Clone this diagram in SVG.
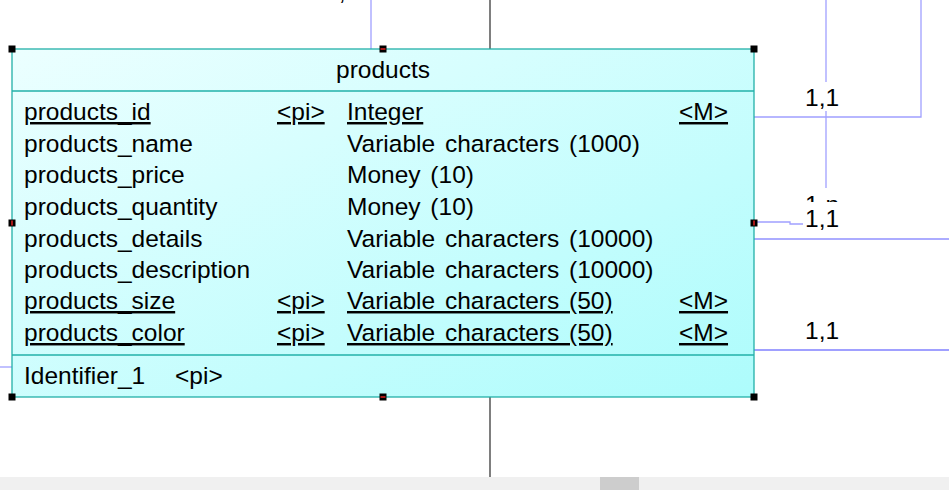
<svg xmlns="http://www.w3.org/2000/svg" width="949" height="490" viewBox="0 0 949 490">
<style>
text{font-family:"Liberation Sans",Arial,sans-serif;font-size:24.5px;word-spacing:3px;fill:#000}
.u{text-decoration:underline}
.c{fill:none;stroke:#a0a0ff;stroke-width:1.3}
.k{fill:none;stroke:#3a3a3a;stroke-width:1.3}
.h{fill:#000}
.r{stroke:#e02020;stroke-width:1.5}
</style>
<defs>
<linearGradient id="g" x1="0" y1="0" x2="1" y2="1">
<stop offset="0" stop-color="#ecffff"/>
<stop offset="1" stop-color="#adfcfc"/>
</linearGradient>
</defs>
<rect width="949" height="490" fill="#fff"/>
<g id="connectors">
<line class="k" x1="490" y1="0" x2="490" y2="49"/>
<line class="k" x1="490" y1="397" x2="490" y2="477"/>
<line class="c" x1="371" y1="0" x2="371" y2="49"/>
<line class="c" x1="826" y1="0" x2="826" y2="82"/>
<line class="c" x1="826" y1="111" x2="826" y2="188"/>
<polyline class="c" points="754,117 921,117 921,0"/>
<polyline class="c" points="754,222 790,222 790,224 803,224"/>
<line class="c" x1="754" y1="239" x2="949" y2="239" style="stroke:#9090ff"/>
<line class="c" x1="754" y1="350" x2="949" y2="350" style="stroke:#8080ff"/>
<line class="c" x1="0" y1="367" x2="12" y2="367"/>
<text x="325" y="0">1,1</text>
<text x="805" y="106">1,1</text>
<text x="805" y="213">1,n</text>
<rect x="803" y="202" width="38" height="27" fill="#fff"/>
<text x="805" y="227">1,1</text>
<text x="805" y="339">1,1</text>
</g>
<g id="products">
<rect x="12" y="49" width="742" height="348" fill="url(#g)" stroke="#22b0a8" stroke-width="1.3"/>
<line x1="12" y1="91" x2="754" y2="91" stroke="#22b0a8" stroke-width="1.3"/>
<line x1="12" y1="355" x2="754" y2="355" stroke="#22b0a8" stroke-width="1.3"/>
<text x="383" y="78" text-anchor="middle">products</text>
<text x="24" y="120" class="u">products_id</text>
<text x="277" y="120" class="u">&lt;pi&gt;</text>
<text x="347" y="120" class="u">Integer</text>
<text x="679" y="120" class="u">&lt;M&gt;</text>
<text x="24" y="152">products_name</text>
<text x="347" y="152">Variable characters (1000)</text>
<text x="24" y="183">products_price</text>
<text x="347" y="183">Money (10)</text>
<text x="24" y="215">products_quantity</text>
<text x="347" y="215">Money (10)</text>
<text x="24" y="247">products_details</text>
<text x="347" y="247">Variable characters (10000)</text>
<text x="24" y="278">products_description</text>
<text x="347" y="278">Variable characters (10000)</text>
<text x="24" y="309" class="u">products_size</text>
<text x="277" y="309" class="u">&lt;pi&gt;</text>
<text x="347" y="309" class="u">Variable characters (50)</text>
<text x="679" y="309" class="u">&lt;M&gt;</text>
<text x="24" y="341" class="u">products_color</text>
<text x="277" y="341" class="u">&lt;pi&gt;</text>
<text x="347" y="341" class="u">Variable characters (50)</text>
<text x="679" y="341" class="u">&lt;M&gt;</text>
<text x="24" y="384">Identifier_1</text>
<text x="175" y="384">&lt;pi&gt;</text>
<g id="handles">
<rect class="h" x="8.5" y="45.5" width="7" height="7"/>
<rect class="h" x="379.5" y="45.5" width="7" height="7"/>
<rect class="h" x="750.5" y="45.5" width="7" height="7"/>
<rect class="h" x="8.5" y="219.5" width="7" height="7"/>
<rect class="h" x="750.5" y="219.5" width="7" height="7"/>
<rect class="h" x="8.5" y="393.5" width="7" height="7"/>
<rect class="h" x="379.5" y="393.5" width="7" height="7"/>
<rect class="h" x="750.5" y="393.5" width="7" height="7"/>
<line class="r" x1="380.5" y1="49" x2="385.5" y2="49"/>
<line class="r" x1="380.5" y1="397" x2="385.5" y2="397"/>
<line class="r" x1="12" y1="220.5" x2="12" y2="225.5"/>
<line class="r" x1="754" y1="220.5" x2="754" y2="225.5"/>
</g>
</g>
<rect x="0" y="477" width="949" height="13" fill="#f0f0f0"/>
<rect x="600" y="477" width="39" height="13" fill="#cdcdcd"/>
</svg>
